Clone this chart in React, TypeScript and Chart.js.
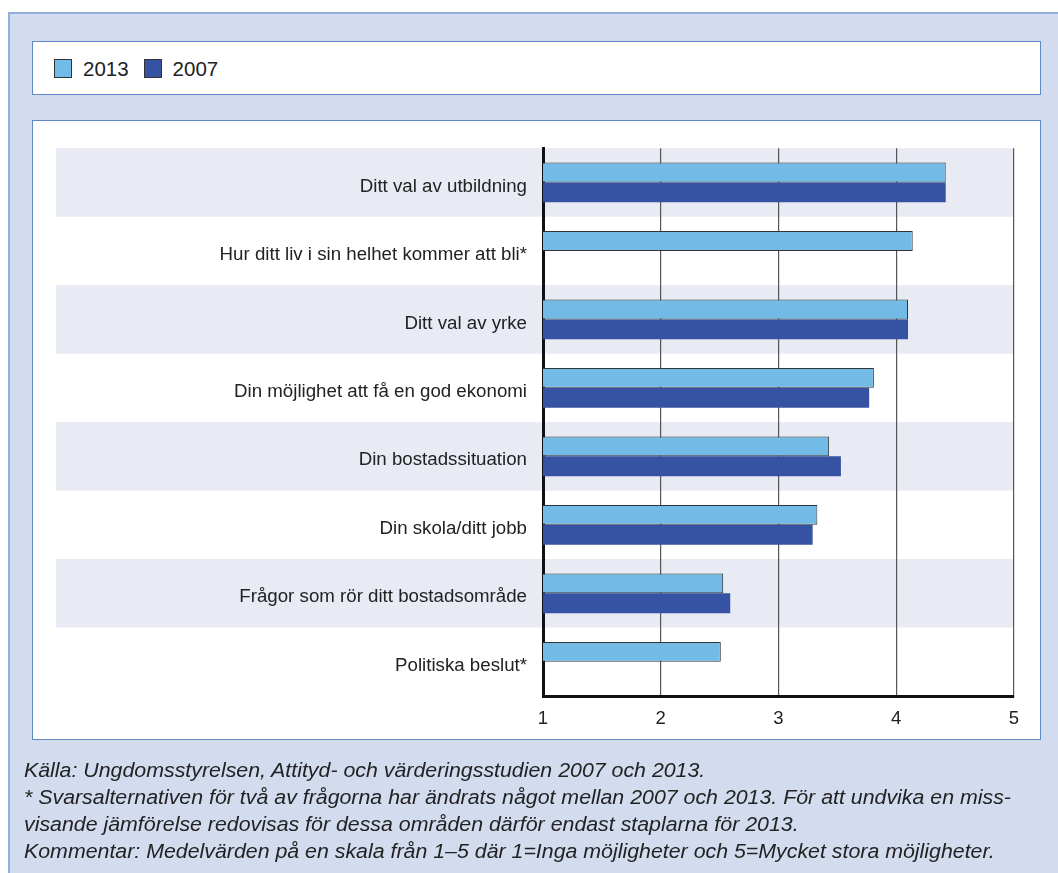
import React, { useEffect, useRef } from "react";
import { Chart, registerables } from "chart.js";

Chart.register(...registerables);

const categories = [
  "Ditt val av utbildning",
  "Hur ditt liv i sin helhet kommer att bli*",
  "Ditt val av yrke",
  "Din möjlighet att få en god ekonomi",
  "Din bostadssituation",
  "Din skola/ditt jobb",
  "Frågor som rör ditt bostadsområde",
  "Politiska beslut*",
];
const values2013 = [4.42, 4.14, 4.1, 3.81, 3.43, 3.33, 2.53, 2.51];
const values2007 = [4.42, null, 4.1, 3.77, 3.53, 3.29, 2.59, null];
const seriesNames = ["2013", "2007"];
const xTicks = [1, 2, 3, 4, 5];
const footnotes = [
  "Källa: Ungdomsstyrelsen, Attityd- och värderingsstudien 2007 och 2013.",
  "* Svarsalternativen för två av frågorna har ändrats något mellan 2007 och 2013. För att undvika en miss-",
  "visande jämförelse redovisas för dessa områden därför endast staplarna för 2013.",
  "Kommentar: Medelvärden på en skala från 1–5 där 1=Inga möjligheter och 5=Mycket stora möjligheter.",
];

const C2013 = "#72bbe6";
const C2007 = "#3652a3";
const FONT = "'Liberation Sans', Arial, sans-serif";

const bandPlugin = {
  id: "bands",
  beforeDraw(chart: any) {
    const { ctx, chartArea, scales } = chart;
    const y = scales.y;
    const n = categories.length;
    const step = (chartArea.bottom - chartArea.top) / n;
    ctx.save();
    ctx.fillStyle = "#e8eaf4";
    for (let i = 0; i < n; i += 2) {
      const c = y.getPixelForValue(i);
      ctx.fillRect(23, c - step / 2, chartArea.right - 23, step);
    }
    ctx.restore();
  },
};

export default function App() {
  const ref = useRef<HTMLCanvasElement>(null);
  useEffect(() => {
    const chart = new Chart(ref.current!, {
      type: "bar",
      data: {
        labels: categories,
        datasets: [
          {
            label: seriesNames[0],
            data: values2013,
            backgroundColor: C2013,
            borderColor: "#333",
            borderWidth: 1,
            borderSkipped: false,
            categoryPercentage: 0.58,
            barPercentage: 1,
          },
          {
            label: seriesNames[1],
            data: values2007 as any,
            backgroundColor: C2007,
            borderWidth: 0,
            categoryPercentage: 0.58,
            barPercentage: 1,
          },
        ],
      },
      options: {
        indexAxis: "y",
        animation: false,
        responsive: false,
        maintainAspectRatio: false,
        layout: { padding: { left: 0, right: 26, top: 26, bottom: 0 } },
        plugins: { legend: { display: false }, tooltip: { enabled: false } },
        scales: {
          x: {
            type: "linear",
            min: 1,
            max: 5,
            afterFit: (s: any) => {
              s.height = 43;
            },
            afterBuildTicks: (s: any) => {
              s.ticks = xTicks.map((v) => ({ value: v }));
            },
            grid: { color: "#555", lineWidth: 1.2, drawTicks: false },
            border: { display: true, color: "#111", width: 3 },
            ticks: {
              padding: 12,
              color: "#222",
              font: { family: FONT, size: 18.5 },
            },
          },
          y: {
            afterFit: (s: any) => {
              s.width = 510;
            },
            grid: { display: false, drawTicks: false },
            border: { display: true, color: "#111", width: 3 },
            ticks: {
              padding: 16,
              labelOffset: 4,
              color: "#222",
              font: { family: FONT, size: 18.7 },
            },
          },
        },
      },
      plugins: [bandPlugin],
    });
    return () => chart.destroy();
  }, []);

  const legendItem = (color: string, label: string) => (
    <div style={{ display: "flex", alignItems: "center", marginRight: 15 }}>
      <div
        style={{
          width: 18,
          height: 19,
          boxSizing: "border-box",
          background: color,
          border: "1px solid #333",
          marginRight: 11,
        }}
      />
      <span style={{ fontSize: 20.5, color: "#222" }}>{label}</span>
    </div>
  );

  return (
    <div
      style={{
        position: "relative",
        width: 1050,
        height: 857,
        overflow: "hidden",
        fontFamily: FONT,
      }}
    >
      <div
        style={{
          position: "fixed",
          left: 8,
          top: 12,
          width: 1080,
          height: 900,
          background: "#d3dcee",
          borderTop: "2px solid #8fb0db",
          borderLeft: "2px solid #8fb0db",
          boxSizing: "border-box",
        }}
      />
      <div
        style={{
          position: "absolute",
          left: 24,
          top: 33,
          width: 1009,
          height: 54,
          boxSizing: "border-box",
          background: "#fff",
          border: "1px solid #5f89c6",
          display: "flex",
          alignItems: "center",
          paddingLeft: 21,
          paddingTop: 1,
        }}
      >
        {legendItem(C2013, seriesNames[0])}
        {legendItem(C2007, seriesNames[1])}
      </div>
      <div
        style={{
          position: "absolute",
          left: 24,
          top: 112,
          width: 1009,
          height: 620,
          boxSizing: "border-box",
          background: "#fff",
          border: "1px solid #5f89c6",
        }}
      >
        <canvas ref={ref} width={1007} height={618} style={{ display: "block" }} />
      </div>
      <div
        style={{
          position: "absolute",
          left: 16,
          top: 749,
          fontStyle: "italic",
          fontSize: 20,
          lineHeight: "27px",
          color: "#222",
          whiteSpace: "nowrap",
          transform: "scaleX(1.067)",
          transformOrigin: "0 0",
        }}
      >
        {footnotes.map((t, i) => (
          <div key={i}>{t}</div>
        ))}
      </div>
    </div>
  );
}
